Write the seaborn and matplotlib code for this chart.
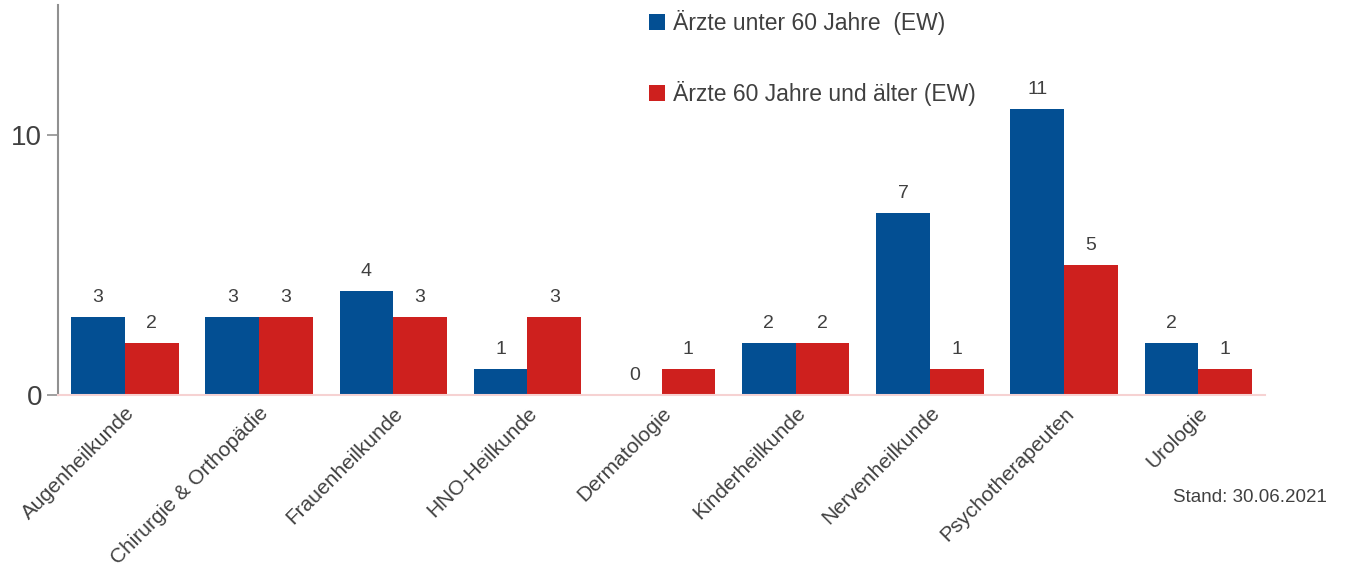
import matplotlib
matplotlib.use("Agg")
import matplotlib.pyplot as plt
from matplotlib.patches import Patch
import pandas as pd
import seaborn as sns

# Data
fachgebiete = ['Augenheilkunde', 'Chirurgie & Orthopädie', 'Frauenheilkunde', 'HNO-Heilkunde',
               'Dermatologie', 'Kinderheilkunde', 'Nervenheilkunde', 'Psychotherapeuten', 'Urologie']
unter_60 = [3, 3, 4, 1, 0, 2, 7, 11, 2]
ab_60 = [2, 3, 3, 3, 1, 2, 1, 5, 1]
serien = ['Ärzte unter 60 Jahre  (EW)', 'Ärzte 60 Jahre und älter (EW)']
farben = ['#034F93', '#CE201E']

df = pd.DataFrame({
    'Fachgebiet': fachgebiete * 2,
    'Anzahl': unter_60 + ab_60,
    'Gruppe': [serien[0]] * len(fachgebiete) + [serien[1]] * len(fachgebiete),
})

sns.set_style('white')
plt.rcParams['font.family'] = ['Liberation Sans', 'DejaVu Sans']
text_col = '#404040'

fig = plt.figure(figsize=(13.46, 5.71), dpi=100)
ax = fig.add_axes([0.043, 0.308, 0.897, 0.683])

sns.barplot(data=df, x='Fachgebiet', y='Anzahl', hue='Gruppe', palette=farben,
            width=0.8, saturation=1, linewidth=0, ax=ax, legend=False)

for cont in ax.containers:
    ax.bar_label(cont, padding=8, fontsize=14, color=text_col)

ax.set_xlim(-0.5, 8.5)
ax.set_ylim(0, 15)
ax.set_yticks([0, 10])
ax.set_xlabel('')
ax.set_ylabel('')
ax.tick_params(axis='y', labelsize=20, colors='#909090', labelcolor=text_col, length=8, width=1.2, direction='out', left=True)
ax.tick_params(axis='x', length=0, pad=6)
plt.setp(ax.get_xticklabels(), rotation=45, ha='right', rotation_mode='anchor',
         fontsize=15, color=text_col)

for s in ['top', 'right']:
    ax.spines[s].set_visible(False)
ax.spines['left'].set_color('#909090')
ax.spines['left'].set_linewidth(1.5)
ax.spines['bottom'].set_color('#F6D2D2')
ax.spines['bottom'].set_linewidth(1.5)

handles = [Patch(facecolor=c, edgecolor='none') for c in farben]
fig.legend(handles, serien, loc='upper left', bbox_to_anchor=(0.467, 1.018), frameon=False,
           fontsize=16.5, labelspacing=2.0, handlelength=0.7, handleheight=0.7, handletextpad=0.35,
           labelcolor=text_col)

fig.text(0.986, 0.128, 'Stand: 30.06.2021', ha='right', va='center', fontsize=13.5, color=text_col)

fig.savefig('out.png', dpi=100)
